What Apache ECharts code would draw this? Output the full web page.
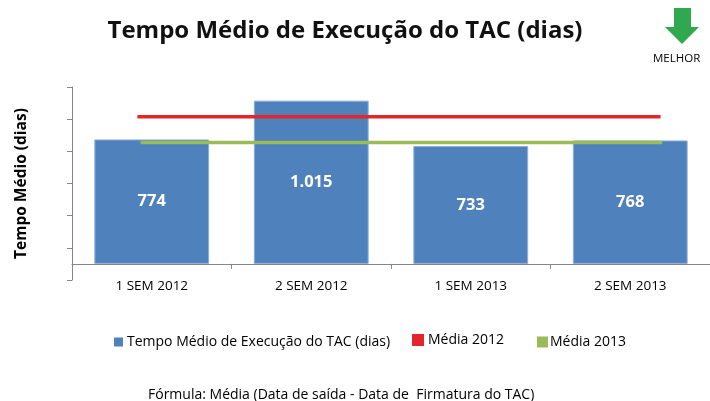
<!DOCTYPE html>
<html>
<head>
<meta charset="utf-8">
<script src="https://cdn.jsdelivr.net/npm/echarts@6/dist/echarts.min.js"></script>
<style>
  html, body { margin: 0; padding: 0; background: #fff; }
  #chart { width: 710px; height: 401px; }
</style>
</head>
<body>
<div id="chart"></div>
<script>
// Semesters and the mean execution time (days) of each
const categories = ['1 SEM 2012', '2 SEM 2012', '1 SEM 2013', '2 SEM 2013'];
const tempoMedio = [774, 1015, 733, 768];
// Yearly reference averages (days)
const media2012 = 915;
const media2013 = 755;
// Y-axis range and tick step
const yMin = -100;
const yMax = 1100;
const yStep = 200;

const FONT = '"Open Sans", Lato, sans-serif';

// Horizontal extent of the average lines, in category units
const spanAvg2012 = [-0.09, 3.19];
const spanAvg2013 = [-0.07, 3.2];

const fmt = v => v.toLocaleString('pt-BR');

const chart = echarts.init(document.getElementById('chart'), null, { renderer: 'canvas' });

const legendText = { fontFamily: FONT, fontSize: 14, color: '#000' };

chart.setOption({
  animation: false,
  textStyle: { fontFamily: FONT },
  title: {
    text: 'Tempo Médio de Execução do TAC (dias)',
    left: 340, top: 14, textAlign: 'center',
    textStyle: { fontFamily: FONT, fontSize: 24, fontWeight: 'bold', color: '#111' }
  },
  grid: { left: 72, right: 0, top: 87, bottom: 121 },
  xAxis: [{
    type: 'category',
    data: categories,
    axisLine: { onZero: true, lineStyle: { color: '#868686' } },
    axisTick: { show: true, length: 5, alignWithLabel: false, lineStyle: { color: '#868686' } },
    axisLabel: { color: '#000', fontSize: 13.5, margin: -1, fontFamily: FONT }
  }, {
    type: 'value', min: -0.5, max: 3.5, show: false
  }],
  yAxis: {
    type: 'value',
    min: yMin, max: yMax, interval: yStep,
    name: 'Tempo Médio (dias)',
    nameLocation: 'middle', nameGap: 42, nameRotate: 90,
    nameTextStyle: { fontFamily: FONT, fontSize: 15.5, fontWeight: 'bold', color: '#000' },
    axisLine: { show: true, onZero: false, lineStyle: { color: '#868686' } },
    axisTick: { show: true, length: 5, lineStyle: { color: '#868686' } },
    axisLabel: { show: false },
    splitLine: { show: false }
  },
  legend: [
    { data: ['Tempo Médio de Execução do TAC (dias)'], left: 114, top: 335, itemWidth: 9, itemHeight: 9,
      textStyle: Object.assign({ padding: [0, 0, 0, -1] }, legendText) },
    { data: ['Média 2012'], left: 412, top: 333, itemWidth: 12, itemHeight: 12,
      textStyle: Object.assign({ padding: [0, 0, 0, -1] }, legendText) },
    { data: ['Média 2013'], left: 537, top: 335, itemWidth: 11, itemHeight: 11,
      textStyle: Object.assign({ padding: [2, 0, 0, -3] }, legendText) }
  ].map(l => Object.assign({ icon: 'rect', itemGap: 4, padding: 0, itemStyle: { borderWidth: 0 } }, l)),
  series: [{
    name: 'Tempo Médio de Execução do TAC (dias)',
    type: 'bar',
    data: tempoMedio,
    barCategoryGap: '28%',
    itemStyle: { color: '#4F81BD', borderColor: '#8EB0DA', borderWidth: 1 },
    label: {
      show: true, position: 'inside',
      formatter: p => fmt(p.value),
      color: '#fff', fontSize: 16.5, fontWeight: 'bold', fontFamily: FONT
    }
  }, {
    name: 'Média 2012',
    type: 'line',
    xAxisIndex: 1,
    data: spanAvg2012.map(x => [x, media2012]),
    symbol: 'none',
    lineStyle: { color: '#E3262A', width: 3.5 },
    itemStyle: { color: '#E3262A' }
  }, {
    name: 'Média 2013',
    type: 'line',
    xAxisIndex: 1,
    data: spanAvg2013.map(x => [x, media2013]),
    symbol: 'none',
    lineStyle: { color: '#9BBB59', width: 3.5 },
    itemStyle: { color: '#9BBB59' }
  }],
  graphic: [{
    type: 'polygon',
    shape: { points: [[674, 8], [691, 8], [691, 27], [699, 27], [682, 44], [665, 27], [674, 27]] },
    style: { fill: '#2FA84F' }
  }, {
    type: 'text', left: 653, top: 53,
    style: { text: 'MELHOR', fontFamily: FONT, fontSize: 11.5, fill: '#000' }
  }, {
    type: 'text', left: 148, top: 388,
    style: { text: 'Fórmula: Média (Data de saída - Data de  Firmatura do TAC)', fontFamily: FONT, fontSize: 14, fill: '#000' }
  }]
});
</script>
</body>
</html>
